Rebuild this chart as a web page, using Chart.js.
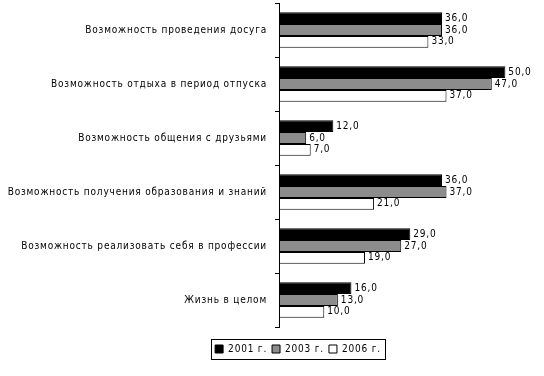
<!DOCTYPE html>
<html>
<head>
<meta charset="utf-8">
<script src="https://cdn.jsdelivr.net/npm/chart.js@4.4.0/dist/chart.umd.min.js"></script>
<style>
  html, body { margin: 0; padding: 0; background: #fff; }
  #wrap { width: 544px; height: 376px; }
</style>
</head>
<body>
<div id="wrap"><canvas id="c"></canvas></div>
<script>
// Satisfaction with leisure / life aspects, 2001 vs 2003 vs 2006 (%).

const categories = [
  'Возможность проведения досуга',
  'Возможность отдыха в период отпуска',
  'Возможность общения с друзьями',
  'Возможность получения образования и знаний',
  'Возможность реализовать себя в профессии',
  'Жизнь в целом',
];
const years = ['2001 г.', '2003 г.', '2006 г.'];
const v2001 = [36, 50, 12, 36, 29, 16];
const v2003 = [36, 47, 6, 37, 27, 13];
const v2006 = [33, 37, 7, 21, 19, 10];

const FONT = '"DejaVu Sans Condensed", "DejaVu Sans", sans-serif';
const SPACING = '0.8px';

// canvas letter spacing gets reset on resize, so set it again before layout + draw
const spacingPlugin = {
  id: 'spacing',
  beforeLayout(chart) { chart.ctx.letterSpacing = SPACING; },
  beforeDraw(chart) { chart.ctx.letterSpacing = SPACING; },
  // legend sits a bit right of the canvas centre in the original
  afterLayout(chart) {
    if (chart.legend) { chart.legend.left += 34; chart.legend.right += 34; }
  },
};

const valueLabels = {
  id: 'valueLabels',
  afterDatasetsDraw(chart) {
    const ctx = chart.ctx;
    ctx.save();
    ctx.letterSpacing = SPACING;
    ctx.font = '10px ' + FONT;
    ctx.fillStyle = '#000';
    ctx.textAlign = 'left';
    ctx.textBaseline = 'middle';
    chart.data.datasets.forEach((ds, i) => {
      chart.getDatasetMeta(i).data.forEach((bar, j) => {
        ctx.fillText(ds.data[j].toFixed(1).replace('.', ','), bar.x + 3, bar.y);
      });
    });
    ctx.restore();
  },
};

const legendFrame = {
  id: 'legendFrame',
  afterDraw(chart) {
    const hb = chart.legend && chart.legend.legendHitBoxes;
    if (!hb || !hb.length) return;
    const l = Math.min(...hb.map(b => b.left)) - 4;
    const r = Math.max(...hb.map(b => b.left + b.width)) + 4;
    const t = hb[0].top - 5;
    const btm = hb[0].top + hb[0].height + 5;
    const ctx = chart.ctx;
    ctx.save();
    ctx.strokeStyle = '#000';
    ctx.lineWidth = 1;
    ctx.strokeRect(Math.round(l) + 0.5, Math.round(t) + 0.5, Math.round(r - l), Math.round(btm - t));
    ctx.restore();
  },
};

new Chart(document.getElementById('c').getContext('2d'), {
  type: 'bar',
  data: {
    labels: categories,
    datasets: [
      { label: years[0], data: v2001, backgroundColor: '#000', borderColor: '#000', borderWidth: 1 },
      { label: years[1], data: v2003, backgroundColor: '#8c8c8c', borderColor: '#000', borderWidth: 1 },
      { label: years[2], data: v2006, backgroundColor: '#fff', borderColor: '#000', borderWidth: 1 },
    ],
  },
  options: {
    indexAxis: 'y',
    responsive: true,
    maintainAspectRatio: false,
    animation: false,
    datasets: { bar: { barPercentage: 1, categoryPercentage: 0.66, borderSkipped: false } },
    layout: { padding: { top: 3, right: 16, left: 0, bottom: 12 } },
    plugins: {
      tooltip: { enabled: false },
      legend: {
        position: 'bottom',
        labels: { color: '#000', boxWidth: 8, boxHeight: 8, padding: 5, font: { family: FONT, size: 10 } },
      },
    },
    scales: {
      x: {
        min: 0, max: 55,
        grid: { display: false }, border: { display: false }, ticks: { display: false },
        // empty strip between the bars and the legend
        afterFit(scale) { scale.height = 12; scale.paddingLeft = 0; scale.paddingRight = 0; },
      },
      y: {
        grid: { drawOnChartArea: false, color: '#000', tickLength: 4, offset: true },
        border: { color: '#000' },
        ticks: { color: '#000', padding: 8, autoSkip: false, font: { family: FONT, size: 10 } },
        afterFit(scale) { scale.width = 279; scale.paddingTop = 0; scale.paddingBottom = 0; },
      },
    },
  },
  plugins: [spacingPlugin, valueLabels, legendFrame],
});
</script>
</body>
</html>
